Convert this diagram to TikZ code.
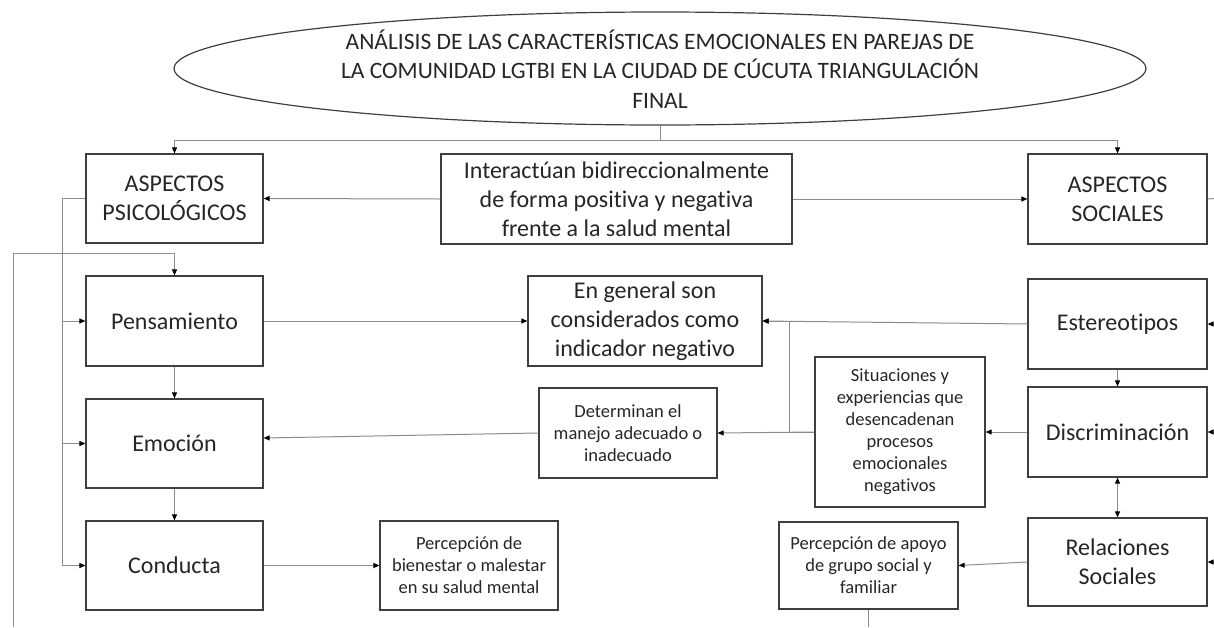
\documentclass[tikz,border=0pt]{standalone}
\usepackage{fontspec}
\setmainfont{Carlito}[Ligatures={NoCommon}]
\usetikzlibrary{arrows.meta,shapes.geometric}
\definecolor{boxc}{HTML}{3F3F3F}
\definecolor{linec}{HTML}{8C8C8C}
\definecolor{txt}{HTML}{262626}
\begin{document}
\begin{tikzpicture}[x=1pt,y=-1pt,
  box/.style={draw=boxc, line width=1.2pt, rectangle, inner sep=0pt, align=center, text=txt, font=\fontsize{24}{29}\selectfont},
  sbox/.style={box, font=\fontsize{18.5}{22}\selectfont},
  conn/.style={draw=linec, line width=1pt},
  arr/.style={conn, -{Triangle[length=6pt,width=5pt,color=black]}},
  darr/.style={conn, {Triangle[length=6pt,width=5pt,color=black]}-{Triangle[length=6pt,width=5pt,color=black]}}]
\useasboundingbox (0,0) rectangle (1214,627);
% title
\node[draw=boxc, line width=1.2pt, ellipse, minimum width=972pt, minimum height=113pt, inner sep=0pt] (title) at (660,68.5) {};
\node[align=center, text=txt, font=\fontsize{23.5}{29.5}\selectfont] (titletext) at (660,69) {ANÁLISIS DE LAS CARACTERÍSTICAS EMOCIONALES EN PAREJAS DE\\LA COMUNIDAD LGTBI EN LA CIUDAD DE CÚCUTA TRIANGULACIÓN\\FINAL};
% boxes
\node[box, minimum width=177pt, minimum height=89pt] (psi) at (174.5,198.5) {ASPECTOS\\PSICOLÓGICOS};
\node[box, minimum width=351pt, minimum height=90pt] (inter) at (616.5,199) {Interactúan bidireccionalmente\\de forma positiva y negativa\\frente a la salud mental};
\node[box, minimum width=179pt, minimum height=90pt] (soc) at (1117.5,199) {ASPECTOS\\SOCIALES};
\node[box, minimum width=177pt, minimum height=90pt] (pens) at (174.5,321) {Pensamiento};
\node[box, minimum width=177pt, minimum height=89pt] (emo) at (174.5,443.5) {Emoción};
\node[box, minimum width=177pt, minimum height=89pt] (cond) at (174.5,565.5) {Conducta};
\node[box, minimum width=234pt, minimum height=90pt] (gen) at (645,321) {En general son\\considerados como\\indicador negativo};
\node[sbox, minimum width=178pt, minimum height=90pt] (det) at (628,433) {Determinan el\\manejo adecuado o\\inadecuado};
\node[sbox, minimum width=178pt, minimum height=89pt] (bien) at (469,565.5) {Percepción de\\bienestar o malestar\\en su salud mental};
\node[sbox, minimum width=170pt, minimum height=150pt] (sit) at (900,432) {Situaciones y\\experiencias que\\desencadenan\\procesos\\emocionales\\negativos};
\node[box, minimum width=179pt, minimum height=90pt] (est) at (1117.5,324) {Estereotipos};
\node[box, minimum width=179pt, minimum height=90pt] (disc) at (1117.5,432) {Discriminación};
\node[box, minimum width=179pt, minimum height=88pt] (rel) at (1117.5,562) {Relaciones\\Sociales};
\node[sbox, minimum width=179pt, minimum height=87pt] (apoyo) at (868.5,565.5) {Percepción de apoyo\\de grupo social y\\familiar};
% free ends
\coordinate (lb) at (13,627);
\coordinate (lt) at (13,253);
\coordinate (rsoc) at (1214,198.5);
\coordinate (rest) at (1214,324);
\coordinate (rdisc) at (1214,432);
\coordinate (rrel) at (1214,562);
\coordinate (abot) at (868.5,627);
% connectors
\draw[conn] (title.south) -- ++(0,15) coordinate (hb);
\draw[arr] (hb) -| (psi.north);
\draw[arr] (hb) -| (soc.north);
\draw[arr] (inter.west) -- (psi.east);
\draw[arr] (inter.east) -- (soc.west);
\draw[arr] (psi.west) -- ++(-23,0) coordinate (lv) |- (cond.west);
\draw[arr] (lv |- pens.west) -- (pens.west);
\draw[arr] (lv |- emo.west) -- (emo.west);
\draw[arr] (lb) -- (lt) -| (pens.north);
\draw[arr] (pens.south) -- (emo.north);
\draw[arr] (emo.south) -- (cond.north);
\draw[arr] (pens.east) -- (gen.west);
\draw[arr] (cond.east) -- (bien.west);
\draw[arr] (est.west) -- (gen.east);
\draw[arr] (sit.west) -- (det.east);
\draw[arr] (sit.west) -- ++(-25,0) |- (gen.east);
\draw[arr] (det.west) -- ([yshift=5.5pt]emo.east);
\draw[arr] (est.south) -- (disc.north);
\draw[darr] (disc.south) -- (rel.north);
\draw[arr] (disc.west) -- (sit.east);
\draw[arr] (rel.west) -- (apoyo.east);
\draw[conn] (apoyo.south) -- (abot);
\draw[conn] (soc.east) -- (rsoc);
\draw[arr] (rest) -- (est.east);
\draw[arr] (rdisc) -- (disc.east);
\draw[arr] (rrel) -- (rel.east);
\end{tikzpicture}
\end{document}
